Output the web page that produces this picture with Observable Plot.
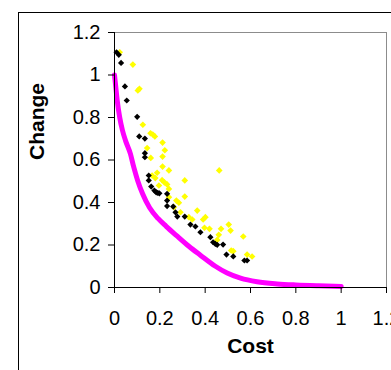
<!DOCTYPE html>
<html><head><meta charset="utf-8">
<script src="https://cdn.jsdelivr.net/npm/d3@7"></script>
<script src="https://cdn.jsdelivr.net/npm/@observablehq/plot@0.6"></script>
<style>
html,body{margin:0;padding:0;background:#fff;overflow:hidden;width:391px;height:370px}
#wrap{position:relative;width:391px;height:370px}
#frame{position:absolute;left:18px;top:12px;width:600px;height:600px;border:1px solid #000;pointer-events:none}
#chart svg{overflow:visible}
</style></head><body><div id="wrap"><div id="chart"></div><div id="frame"></div></div>
<script>
const tickValues = [0, 0.2, 0.4, 0.6, 0.8, 1, 1.2];
const xTitle = "Cost";
const yTitle = "Change";

const blackCost = [0.009,0.019,0.029,0.046,0.054,0.100,0.109,0.134,0.134,0.134,0.151,0.151,0.162,0.176,0.184,0.191,0.198,0.232,0.232,0.232,0.259,0.269,0.277,0.310,0.335,0.357,0.379,0.423,0.435,0.445,0.453,0.479,0.494,0.524,0.573,0.585];
const blackChange = [1.107,1.095,1.057,0.946,0.880,0.803,0.711,0.701,0.632,0.613,0.527,0.504,0.475,0.456,0.448,0.445,0.443,0.441,0.409,0.383,0.381,0.354,0.334,0.334,0.296,0.287,0.260,0.237,0.213,0.205,0.201,0.202,0.155,0.146,0.127,0.127];

const yellowCost = [0.023,0.081,0.103,0.110,0.125,0.159,0.169,0.178,0.212,0.222,0.144,0.160,0.212,0.212,0.240,0.462,0.188,0.166,0.180,0.210,0.220,0.232,0.310,0.240,0.196,0.240,0.310,0.262,0.273,0.284,0.291,0.365,0.328,0.343,0.391,0.401,0.397,0.419,0.504,0.470,0.512,0.460,0.453,0.568,0.515,0.524,0.585,0.607];
const yellowChange = [1.107,1.049,0.927,0.935,0.766,0.726,0.720,0.711,0.682,0.646,0.656,0.610,0.616,0.569,0.551,0.551,0.540,0.527,0.515,0.505,0.495,0.485,0.504,0.464,0.480,0.425,0.428,0.378,0.409,0.399,0.354,0.362,0.331,0.320,0.320,0.331,0.281,0.276,0.296,0.276,0.268,0.248,0.224,0.240,0.174,0.171,0.155,0.146];

const magentaCost = [0,0.004,0.012,0.023,0.035,0.049,0.070,0.085,0.102,0.124,0.155,0.192,0.228,0.274,0.328,0.379,0.445,0.497,0.556,0.629,0.718,0.800,0.900,1.0];
const magentaChange = [1.0,0.96,0.88,0.80,0.74,0.69,0.63,0.566,0.504,0.441,0.375,0.325,0.288,0.244,0.194,0.152,0.100,0.068,0.044,0.027,0.017,0.012,0.008,0.005];

const rows = (xs, ys) => xs.map((x, i) => ({cost: x, change: ys[i]}));
const fmt = d => d === 0 ? "0" : String(Math.round(d * 10) / 10);
const fontFamily = '"Liberation Sans", Arial, sans-serif';

const chart = Plot.plot({
  width: 391, height: 370,
  marginLeft: 114, marginRight: 5, marginTop: 32, marginBottom: 83,
  style: {fontFamily, background: "transparent", overflow: "visible", color: "#000"},
  x: {domain: [0, 1.2]},
  y: {domain: [0, 1.2]},
  marks: [
    Plot.frame({stroke: "#8c8c8c"}),
    Plot.dot(rows(yellowCost, yellowChange), {x: "cost", y: "change", symbol: "diamond2", r: 3, fill: "#FFFF00"}),
    Plot.dot(rows(blackCost, blackChange), {x: "cost", y: "change", symbol: "diamond2", r: 2.8, fill: "#000"}),
    Plot.line(rows(magentaCost, magentaChange), {x: "cost", y: "change", stroke: "#FF00FF", strokeWidth: 5, curve: "monotone-x"}),
    Plot.axisX({ticks: tickValues, tickSize: 6, tickPadding: 17, tickFormat: fmt, fontSize: 20, label: null}),
    Plot.axisY({ticks: tickValues, tickSize: 6, tickPadding: 8, tickFormat: fmt, fontSize: 20, label: null}),
    Plot.ruleX([0], {stroke: "#000"}),
    Plot.ruleY([0], {stroke: "#000"}),
    Plot.text([xTitle], {text: d => d, frameAnchor: "bottom", dy: 65, fontWeight: "bold", fontSize: 21}),
    Plot.text([yTitle], {text: d => d, frameAnchor: "left", dx: -77, rotate: -90, fontWeight: "bold", fontSize: 21})
  ]
});
document.getElementById("chart").appendChild(chart);
</script></body></html>
